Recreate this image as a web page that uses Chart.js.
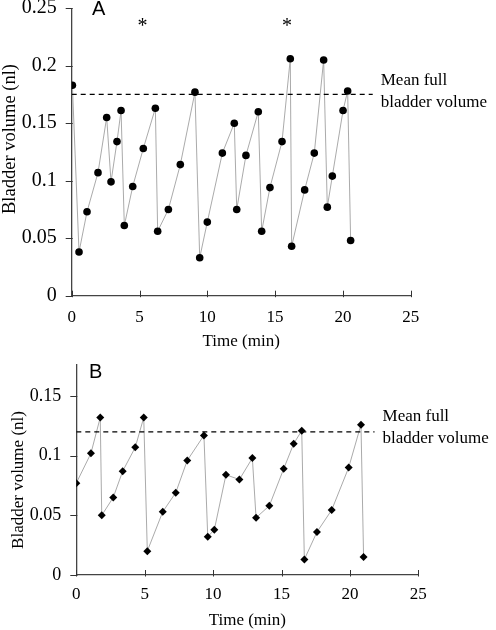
<!DOCTYPE html>
<html>
<head>
<meta charset="utf-8">
<script src="https://cdn.jsdelivr.net/npm/chart.js@4/dist/chart.umd.min.js"></script>
<style>
  html, body { margin: 0; padding: 0; background: #fff; }
  #wrapA { position: absolute; left: 0; top: 0; width: 496px; height: 350px; }
  #wrapB { position: absolute; left: 0; top: 350px; width: 496px; height: 280px; }
</style>
</head>
<body>
<div id="wrapA"><canvas id="chartA" width="496" height="350"></canvas></div>
<div id="wrapB"><canvas id="chartB" width="496" height="280"></canvas></div>
<script>
// panel A - circles
const timeA = [0.05, 0.54, 1.13, 1.94, 2.58, 2.90, 3.34, 3.64, 3.88, 4.50, 5.28, 6.17, 6.34, 7.13, 8.01, 9.09, 9.44, 10.0,
  11.11, 11.99, 12.17, 12.85, 13.76, 14.01, 14.62, 15.51, 16.12, 16.22, 17.18, 17.89, 18.58, 18.85, 19.22, 20.01, 20.35, 20.57];
const volA = [0.183, 0.038, 0.073, 0.107, 0.155, 0.099, 0.134, 0.161, 0.061, 0.095, 0.128, 0.163, 0.056, 0.075, 0.114, 0.177, 0.033, 0.064,
  0.124, 0.150, 0.075, 0.122, 0.160, 0.056, 0.094, 0.134, 0.206, 0.043, 0.092, 0.124, 0.205, 0.077, 0.104, 0.161, 0.178, 0.048];
const meanA = 0.175;
const meanEndA = 22.2;
const starTimesA = [5.22, 15.88];
const ticksYA = [0, 0.05, 0.1, 0.15, 0.2, 0.25];

// panel B - diamonds
const timeB = [0.0, 1.07, 1.75, 1.86, 2.70, 3.39, 4.31, 4.93, 5.19, 6.32, 7.27, 8.11, 9.33, 9.61, 10.09, 10.94, 11.92, 12.87,
  13.14, 14.11, 15.16, 15.89, 16.48, 16.67, 17.59, 18.67, 19.91, 20.81, 21.0];
const volB = [0.077, 0.102, 0.132, 0.050, 0.065, 0.087, 0.107, 0.132, 0.020, 0.053, 0.069, 0.096, 0.117, 0.032, 0.038, 0.084, 0.080, 0.098,
  0.048, 0.058, 0.089, 0.110, 0.121, 0.013, 0.036, 0.0545, 0.090, 0.126, 0.015];
const meanB = 0.12;
const meanEndB = 21.8;
const ticksYB = [0, 0.05, 0.1, 0.15];

const ticksX = [0, 5, 10, 15, 20, 25];

const SERIF = '"Liberation Serif", "Times New Roman", serif';

// tick marks, panel letters, y titles, mean label, asterisks
const decor = {
  id: 'decor',
  afterDraw(chart, args, opts) {
    const { ctx, chartArea, scales: { x, y } } = chart;
    ctx.save();
    ctx.strokeStyle = '#333';
    ctx.lineWidth = 1;
    ctx.beginPath();
    x.ticks.forEach(t => {
      const px = Math.round(x.getPixelForValue(t.value)) + 0.5;
      ctx.moveTo(px, chartArea.bottom - 5);
      ctx.lineTo(px, chartArea.bottom + 1.5);
    });
    y.ticks.forEach(t => {
      const py = Math.round(y.getPixelForValue(t.value)) + 0.5;
      ctx.moveTo(chartArea.left - 6, py);
      ctx.lineTo(chartArea.left + 1, py);
    });
    ctx.stroke();

    ctx.fillStyle = '#000';
    ctx.font = '20px "Liberation Sans", Arial, sans-serif';
    ctx.textAlign = 'left';
    ctx.textBaseline = 'alphabetic';
    ctx.fillText(opts.letter, opts.letterX, opts.letterY);

    ctx.save();
    ctx.translate(opts.titleX, opts.titleY);
    ctx.rotate(-Math.PI / 2);
    ctx.font = opts.titleSize + 'px ' + SERIF;
    ctx.textAlign = 'center';
    ctx.textBaseline = 'middle';
    ctx.fillText('Bladder volume (nl)', 0, 0);
    ctx.restore();

    const my = y.getPixelForValue(opts.mean);
    const mx = x.getPixelForValue(opts.meanEnd) + 8;
    ctx.font = '17px ' + SERIF;
    ctx.textAlign = 'left';
    ctx.textBaseline = 'middle';
    ctx.fillText('Mean full', mx, my + opts.line1);
    ctx.fillText('bladder volume', mx, my + opts.line2);

    ctx.font = '20px ' + SERIF;
    ctx.textAlign = 'center';
    ctx.textBaseline = 'alphabetic';
    (opts.stars || []).forEach(t => {
      ctx.fillText('*', x.getPixelForValue(t), y.getPixelForValue(opts.starY));
    });
    ctx.restore();
  }
};

function makeChart(id, c) {
  const points = c.time.map((t, i) => ({ x: t, y: c.vol[i] }));
  return new Chart(document.getElementById(id), {
    type: 'line',
    data: {
      datasets: [
        {
          data: [{ x: 0, y: c.mean }, { x: c.meanEnd, y: c.mean }],
          borderColor: '#000',
          borderWidth: 1.2,
          borderDash: [5, 4],
          pointRadius: 0
        },
        {
          data: points,
          borderColor: '#a0a0a0',
          borderWidth: 0.9,
          tension: 0,
          pointStyle: c.pointStyle,
          pointRadius: c.pointRadius,
          pointBackgroundColor: '#000',
          pointBorderColor: '#000',
          pointBorderWidth: 0
        }
      ]
    },
    options: {
      responsive: false,
      animation: false,
      devicePixelRatio: 1,
      layout: { padding: c.padding },
      plugins: {
        legend: { display: false },
        tooltip: { enabled: false },
        decor: c.decor
      },
      scales: {
        x: {
          type: 'linear',
          min: 0,
          max: 25,
          grid: { display: false },
          border: { display: true, color: '#444', width: 1.3 },
          afterBuildTicks: axis => { axis.ticks = ticksX.map(v => ({ value: v })); },
          afterFit: s => { s.height = c.xHeight; s.paddingLeft = 0; s.paddingRight = 0; },
          ticks: {
            color: '#000',
            padding: c.xTickPad,
            maxRotation: 0,
            font: { family: SERIF, size: 17 },
            callback: v => String(v)
          },
          title: {
            display: true,
            text: 'Time (min)',
            color: '#000',
            font: { family: SERIF, size: 17, lineHeight: 1 },
            padding: { top: 0, bottom: c.xTitlePad }
          }
        },
        y: {
          type: 'linear',
          min: 0,
          max: c.yMax,
          grid: { display: false },
          border: { display: true, color: '#444', width: 1.3 },
          afterBuildTicks: axis => { axis.ticks = c.yTicks.map(v => ({ value: v })); },
          afterFit: s => { s.width = c.yWidth; s.paddingTop = 0; s.paddingBottom = 0; },
          ticks: {
            color: '#000',
            padding: 7,
            font: { family: SERIF, size: c.yTickSize },
            callback: v => String(v)
          }
        }
      }
    },
    plugins: [decor]
  });
}

makeChart('chartA', {
  time: timeA, vol: volA, mean: meanA, meanEnd: meanEndA,
  pointStyle: 'circle', pointRadius: 3.8,
  padding: { top: 8.2, right: 85.3, left: 0, bottom: 0 },
  xHeight: 54.3, yWidth: 71.7, yMax: 0.25, yTicks: ticksYA, xTitlePad: 0,
  xTickPad: 4, yTickSize: 20,
  decor: {
    letter: 'A', letterX: 92, letterY: 15,
    titleX: 10, titleY: 139, titleSize: 18.5,
    mean: meanA, meanEnd: meanEndA, line1: -14, line2: 8,
    stars: starTimesA, starY: 0.229
  }
});

makeChart('chartB', {
  time: timeB, vol: volB, mean: meanB, meanEnd: meanEndB,
  pointStyle: 'rectRot', pointRadius: 4,
  padding: { top: 15, right: 77.7, left: 0, bottom: 0 },
  xHeight: 55, yWidth: 76.3, yMax: 0.176, yTicks: ticksYB, xTitlePad: 1,
  xTickPad: 1, yTickSize: 18,
  decor: {
    letter: 'B', letterX: 89, letterY: 28.3,
    titleX: 19, titleY: 130, titleSize: 17,
    mean: meanB, meanEnd: meanEndB, line1: -15, line2: 7,
    stars: [], starY: 0
  }
});
</script>
</body>
</html>
